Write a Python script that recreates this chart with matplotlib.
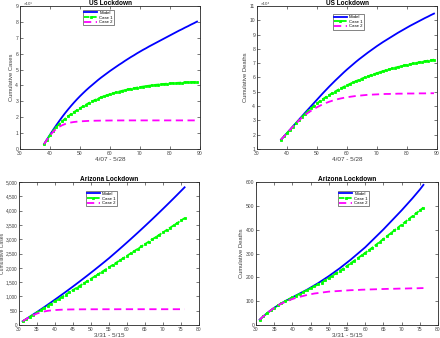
import matplotlib
matplotlib.use("Agg")
import matplotlib.pyplot as plt
from matplotlib.ticker import FuncFormatter, MultipleLocator

# ---------------- data ----------------
us_days = list(range(38, 90))
us_cases_model = [0.30, 0.60, 0.90, 1.19, 1.47, 1.74, 2.00, 2.25, 2.485, 2.71, 2.925, 3.13, 3.325,
                  3.51, 3.69, 3.86, 4.02, 4.18, 4.34, 4.49, 4.63, 4.77, 4.91,
                  5.04, 5.17, 5.30, 5.42, 5.55, 5.67, 5.79, 5.90, 6.02, 6.13,
                  6.24, 6.34, 6.45, 6.55, 6.65, 6.75, 6.85, 6.95, 7.05, 7.15,
                  7.25, 7.35, 7.45, 7.54, 7.64, 7.73, 7.83, 7.92, 8.02]
us_cases_case1 = [0.30, 0.59, 0.87, 1.13, 1.36, 1.56, 1.74, 1.905, 2.055, 2.195, 2.325, 2.45, 2.57,
                  2.685, 2.795, 2.90, 3.00, 3.09, 3.175, 3.255, 3.325, 3.39, 3.45,
                  3.51, 3.565, 3.615, 3.665, 3.71, 3.755, 3.795, 3.83, 3.865, 3.90,
                  3.93, 3.96, 3.985, 4.01, 4.035, 4.055, 4.075, 4.095, 4.115, 4.13,
                  4.145, 4.158, 4.17, 4.182, 4.193, 4.203, 4.212, 4.221, 4.23]
us_cases_case2 = [0.30, 0.59, 0.85, 1.07, 1.25, 1.39, 1.49, 1.57, 1.63, 1.67, 1.70, 1.72, 1.74,
                  1.75, 1.76, 1.77, 1.775, 1.78, 1.783, 1.786, 1.789, 1.791, 1.793,
                  1.795, 1.796, 1.797, 1.798, 1.799, 1.80, 1.80, 1.80, 1.80, 1.80,
                  1.80, 1.80, 1.80, 1.80, 1.80, 1.80, 1.80, 1.80, 1.80, 1.80,
                  1.80, 1.80, 1.80, 1.80, 1.80, 1.80, 1.80, 1.80, 1.80]

us_deaths_model = [1.65, 1.88, 2.12, 2.35, 2.59, 2.82, 3.06, 3.29, 3.53, 3.76, 3.99, 4.22, 4.45,
                   4.68, 4.91, 5.13, 5.35, 5.56, 5.77, 5.97, 6.17, 6.37, 6.56,
                   6.74, 6.92, 7.10, 7.27, 7.43, 7.59, 7.75, 7.90, 8.05, 8.20,
                   8.34, 8.48, 8.61, 8.74, 8.87, 9.00, 9.13, 9.25, 9.37, 9.49,
                   9.61, 9.72, 9.83, 9.94, 10.05, 10.16, 10.26, 10.37, 10.47]
us_deaths_case1 = [1.65, 1.88, 2.11, 2.34, 2.57, 2.80, 3.02, 3.24, 3.45, 3.65, 3.84, 4.02, 4.19,
                   4.35, 4.50, 4.64, 4.77, 4.90, 5.02, 5.14, 5.25, 5.36, 5.46,
                   5.56, 5.66, 5.75, 5.84, 5.93, 6.01, 6.09, 6.17, 6.24, 6.31,
                   6.38, 6.45, 6.51, 6.57, 6.63, 6.69, 6.74, 6.79, 6.84, 6.89,
                   6.94, 6.98, 7.02, 7.06, 7.10, 7.14, 7.18, 7.21, 7.25]
us_deaths_case2 = [1.65, 1.88, 2.11, 2.34, 2.57, 2.79, 3.00, 3.20, 3.38, 3.53, 3.67, 3.80, 3.92,
                   4.03, 4.13, 4.22, 4.30, 4.37, 4.43, 4.49, 4.54, 4.58, 4.62,
                   4.65, 4.68, 4.71, 4.73, 4.75, 4.77, 4.79, 4.80, 4.81, 4.82,
                   4.83, 4.84, 4.85, 4.85, 4.86, 4.86, 4.87, 4.87, 4.87, 4.88,
                   4.88, 4.88, 4.89, 4.89, 4.89, 4.89, 4.90, 4.90, 4.90]

az_days = list(range(31, 77))
az_cases_model = [130, 210, 291, 373, 456, 540, 625, 712, 800, 889, 979, 1070, 1161, 1254, 1347,
                  1442, 1537, 1634, 1731, 1830, 1929, 2030, 2131, 2233, 2336,
                  2445, 2554, 2664, 2775, 2887, 3000, 3114, 3229, 3345, 3462,
                  3580, 3699, 3819, 3940, 4062, 4185, 4309, 4434, 4560, 4687, 4815]
az_cases_case1 = [130, 207, 284, 362, 439, 517, 595, 672, 750, 829, 907, 985, 1064, 1143, 1222,
                  1301, 1380, 1459, 1539, 1618, 1698, 1778, 1858, 1938, 2018,
                  2099, 2179, 2260, 2341, 2422, 2503, 2584, 2666, 2747, 2829,
                  2911, 2993, 3075, 3157, 3239, 3322, 3405, 3487, 3570, 3654, 3737]
az_cases_case2 = [130, 210, 285, 345, 400, 442, 473, 496, 511, 522, 530, 536, 540, 543, 545,
                  547, 548, 549, 549, 550, 550, 550, 551, 551, 551,
                  551, 551, 552, 552, 552, 552, 552, 552, 552, 552,
                  552, 552, 552, 552, 552, 552, 552, 552, 552, 552, 552]

az_deaths_model = [22, 36, 49, 61, 72, 82, 91, 100, 108, 116, 124, 132, 140, 148, 157,
                   166, 175, 185, 195, 205, 216, 227, 238, 250, 262,
                   274, 287, 300, 313, 326, 341, 356, 371, 386, 401,
                   417, 433, 449, 465, 481, 498, 515, 532, 550, 568, 588]
az_deaths_case1 = [22, 36, 49, 61, 72, 82, 91, 100, 108, 116, 123, 131, 138, 146, 154,
                   162, 170, 178, 187, 197, 207, 217, 227, 237, 248,
                   259, 270, 281, 292, 303, 314, 325, 337, 349, 361,
                   373, 385, 397, 409, 421, 433, 445, 457, 469, 481, 493]
az_deaths_case2 = [22, 36, 49, 61, 72, 82, 90, 97, 103, 109, 114, 118, 122, 126, 129,
                   132, 134, 136, 138, 140, 141, 142, 143, 144, 145,
                   146, 146.5, 147, 148, 148.5, 149, 149.5, 150, 150.5, 151,
                   151.5, 152, 152, 152.5, 153, 153, 153.5, 154, 154, 154.5, 155]

series_labels = ["Model", "Case 1", "Case 2"]
titles = ["US Lockdown", "US Lockdown", "Arizona Lockdown", "Arizona Lockdown"]
ylabels = ["Cumulative Cases", "Cumulative Deaths", "Cumulative Cases", "Cumulative Deaths"]
xlabels = ["4/07 - 5/28", "4/07 - 5/28", "3/31 - 5/15", "3/31 - 5/15"]
offset_labels = ["\u00d710\u2075", "\u00d710\u2074", None, None]

# ---------------- plotting ----------------
plt.rcParams['font.family'] = ['Liberation Sans', 'DejaVu Sans']
fig = plt.figure(figsize=(4.4, 3.38), dpi=100)
fig.patch.set_facecolor("white")

positions = [
    (20 / 440, 1 - 149 / 338, 180 / 440, 143 / 338),
    (257 / 440, 1 - 149 / 338, 180 / 440, 143 / 338),
    (19 / 440, 1 - 325 / 338, 180 / 440, 143 / 338),
    (256 / 440, 1 - 325 / 338, 182 / 440, 143 / 338),
]

panels = [
    (us_days, us_cases_model, us_cases_case1, us_cases_case2),
    (us_days, us_deaths_model, us_deaths_case1, us_deaths_case2),
    (az_days, az_cases_model, az_cases_case1, az_cases_case2),
    (az_days, az_deaths_model, az_deaths_case1, az_deaths_case2),
]

xlims = [(30, 90), (30, 90), (30, 80), (30, 80)]
xsteps = [10, 10, 5, 5]
ylims = [(0, 9), (1, 11), (0, 5000), (0, 600)]
ysteps = [1, 1, 500, 100]
legend_anchor = [(0.35, 0.975), (0.42, 0.945), (0.37, 0.94), (0.45, 0.94)]

axcol = "#262626"
tickcol = "#404040"

for i, (pos, (x, m, c1, c2)) in enumerate(zip(positions, panels)):
    ax = fig.add_axes(pos)
    ax.plot(x, m, color=(0, 0, 1), lw=1.3, label=series_labels[0])
    ax.plot(x, c1, color=(0, 1, 0), lw=1.3, ls=(0, (3, 1)),
            marker='s', ms=1.9, mew=0.6, label=series_labels[1])
    ax.plot(x, c2, color=(1, 0, 1), lw=1.3, ls=(0, (4, 2.5)),
            label=series_labels[2])
    ax.set_xlim(*xlims[i])
    ax.set_ylim(*ylims[i])
    ax.xaxis.set_major_locator(MultipleLocator(xsteps[i]))
    ax.yaxis.set_major_locator(MultipleLocator(ysteps[i]))
    if i == 2:
        ax.yaxis.set_major_formatter(FuncFormatter(lambda v, p: f"{int(v):,}"))
    else:
        ax.yaxis.set_major_formatter(FuncFormatter(lambda v, p: f"{v:g}"))
    if offset_labels[i]:
        ax.text(0.02, 1.003, offset_labels[i], transform=ax.transAxes,
                fontsize=3.2, color=tickcol, ha='left', va='bottom')
    ax.tick_params(direction='in', length=2, width=0.5, labelsize=3.6,
                   colors=tickcol, top=True, right=True, pad=1.3)
    for sp in ax.spines.values():
        sp.set_linewidth(0.6)
        sp.set_color(axcol)
    ax.set_title(titles[i], fontsize=4.7, fontweight='bold', pad=0.6, color='black')
    if i == 2:
        ax.tick_params(axis='y', labelsize=3.4, pad=1.0)
        ax.set_ylabel(ylabels[i], fontsize=3.6, color=tickcol)
        ax.yaxis.set_label_coords(-0.077, 0.5)
    else:
        ax.set_ylabel(ylabels[i], fontsize=4.2, labelpad=0.8, color=tickcol)
    ax.set_xlabel(xlabels[i], fontsize=4.6, labelpad=1.0, color=tickcol)
    leg = ax.legend(loc='upper left', bbox_to_anchor=legend_anchor[i], fontsize=3.1,
                    frameon=True, fancybox=False, edgecolor=axcol, handlelength=3.0,
                    borderpad=0.3, labelspacing=0.15, handletextpad=0.5,
                    borderaxespad=0)
    leg.get_frame().set_linewidth(0.5)

fig.savefig("out.png", dpi=100, facecolor="white")
